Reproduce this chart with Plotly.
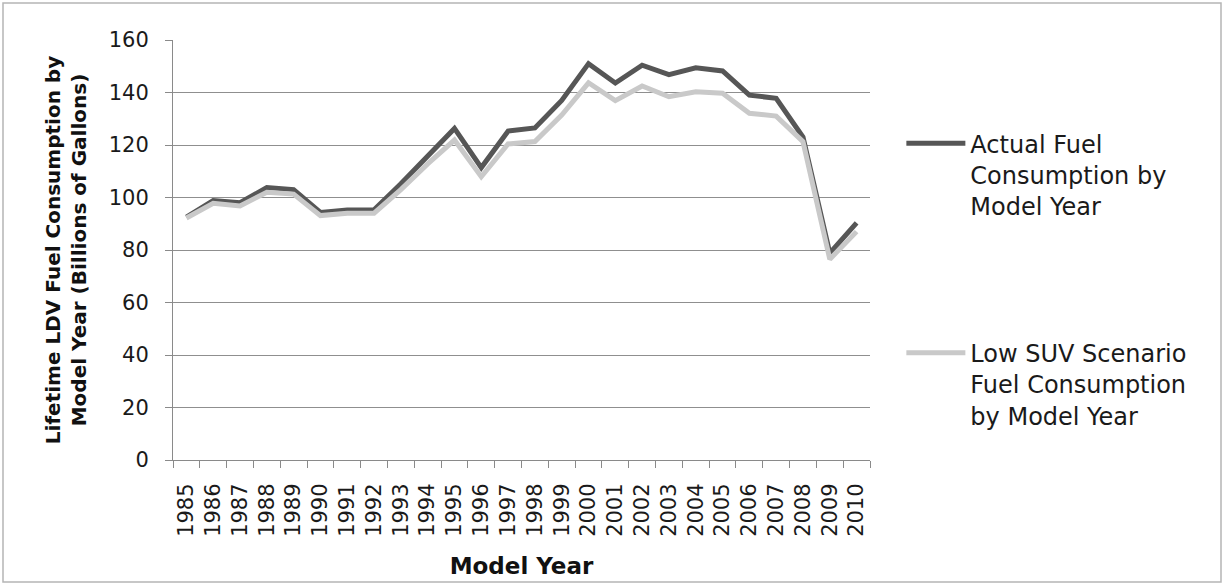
import plotly.graph_objects as go

# Model years (categories) and lifetime fuel consumption, billions of gallons
years = [str(y) for y in range(1985, 2011)]
actual = [92.5, 98.8, 98.0, 103.8, 103.0, 94.3, 95.2, 95.3, 105.2, 115.6,
          126.3, 111.4, 125.3, 126.5, 137.0, 151.0, 143.6, 150.4, 146.8, 149.4,
          148.2, 139.0, 137.8, 123.0, 78.8, 90.3]
low_suv = [92.2, 97.8, 96.8, 102.0, 101.3, 93.1, 94.0, 94.0, 103.0, 112.8,
           121.9, 107.9, 120.4, 121.3, 131.4, 143.7, 136.9, 142.5, 138.4, 140.3,
           139.7, 132.1, 131.0, 121.3, 76.5, 87.0]

y_ticks = [0, 20, 40, 60, 80, 100, 120, 140, 160]

label_font = "DejaVu Sans"
bold_font = "DejaVu Sans"

fig = go.Figure()
fig.add_trace(go.Scatter(
    x=years, y=actual, mode="lines",
    name="Actual Fuel<br>Consumption by<br>Model Year",
    line=dict(color="#565656", width=5),
    legendgroup="a",
))
fig.add_trace(go.Scatter(
    x=years, y=low_suv, mode="lines",
    name="Low SUV Scenario<br>Fuel Consumption<br>by Model Year",
    line=dict(color="#c9c9c9", width=5),
    legendgroup="b",
))

# Light frame around the whole chart
pw, ph = 697.0, 420.0
fig.add_shape(
    type="rect", xref="paper", yref="paper",
    x0=(3 - 173) / pw, x1=(1221 - 173) / pw,
    y0=(460 - 582) / ph, y1=(460 - 3) / ph,
    line=dict(color="#b5b5b5", width=1.5), layer="below",
)

fig.update_layout(
    width=1225, height=586,
    margin=dict(l=173, r=355, t=40, b=126),
    paper_bgcolor="white", plot_bgcolor="white",
    showlegend=True,
    legend=dict(
        x=1.045, y=0.807, xanchor="left", yanchor="top",
        font=dict(family=label_font, size=24, color="#1a1a1a"),
        valign="top", tracegroupgap=113, itemwidth=59,
        bgcolor="rgba(0,0,0,0)",
    ),
    xaxis=dict(
        type="category", range=[-0.5, 25.5],
        tickson="boundaries", ticks="outside", ticklen=7,
        tickcolor="#8a8a8a", showline=True, linecolor="#8a8a8a", linewidth=1,
        showgrid=False, tickangle=-90, ticklabelstandoff=14,
        tickfont=dict(family=label_font, size=21, color="#1a1a1a"),
        title=dict(text="<b>Model Year</b>", standoff=22,
                   font=dict(family=bold_font, size=23, color="#111111")),
    ),
    yaxis=dict(
        range=[0, 160], tickvals=y_ticks,
        ticks="outside", ticklen=7, tickcolor="#8a8a8a",
        showline=True, linecolor="#8a8a8a", linewidth=1,
        showgrid=True, gridcolor="#8f8f8f", gridwidth=1,
        zeroline=False, ticklabelstandoff=12,
        tickfont=dict(family=label_font, size=21, color="#1a1a1a"),
        title=dict(text="<b>Lifetime LDV Fuel Consumption by<br>Model Year (Billions of Gallons)</b>",
                   standoff=16,
                   font=dict(family=bold_font, size=20, color="#111111")),
    ),
)

fig.write_html("out.html")
